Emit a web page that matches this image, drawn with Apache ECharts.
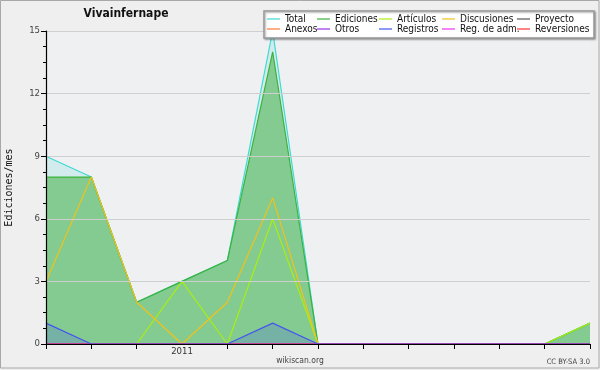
<!DOCTYPE html>
<html><head><meta charset="utf-8">
<script src="https://cdn.jsdelivr.net/npm/echarts@6/dist/echarts.min.js"></script>
<style>html,body{margin:0;padding:0;background:#efefef}#c{width:600px;height:370px}</style>
</head><body><div id="c"></div>
<script>
const categories = ['2010-10','2010-11','2010-12','2011-01','2011-02','2011-03','2011-04','2011-05','2011-06','2011-07','2011-08','2011-09','2011-10'];
const total       = [9, 8, 2, 3, 4, 15, 0, 0, 0, 0, 0, 0, 1];
const ediciones   = [8, 8, 2, 3, 4, 14, 0, 0, 0, 0, 0, 0, 1];
const articulos   = [0, 0, 0, 3, 0, 6, 0, 0, 0, 0, 0, 0, 1];
const discusiones = [3, 8, 2, 0, 2, 7, 0, 0, 0, 0, 0, 0, 0];
const proyecto    = [0, 0, 0, 0, 0, 0, 0, 0, 0, 0, 0, 0, 0];
const anexos      = [0, 0, 0, 0, 0, 0, 0, 0, 0, 0, 0, 0, 0];
const otros       = [0, 0, 0, 0, 0, 0, 0, 0, 0, 0, 0, 0, 0];
const registros   = [1, 0, 0, 0, 0, 1, 0, 0, 0, 0, 0, 0, 0];
const regAdm      = [0, 0, 0, 0, 0, 0, 0, 0, 0, 0, 0, 0, 0];
const reversiones = [0, 0, 0, 0, 0, 0, 0, 0, 0, 0, 0, 0, 0];
const yTicks = [0, 3, 6, 9, 12, 15];
const title = 'Vivainfernape';
const yName = 'Ediciones/mes';

const FONT = '"DejaVu Sans Condensed", "DejaVu Sans", sans-serif';
const chart = echarts.init(document.getElementById('c'), null, {renderer: 'canvas'});

function line(name, data, color, area, areaOpacity, z) {
  const s = {
    name, type: 'line', data, color, symbol: 'none', z: z,
    lineStyle: {width: 1.2, color},
    emphasis: {disabled: true}, animation: false
  };
  if (area) s.areaStyle = {color: area, opacity: areaOpacity};
  return s;
}

const series = [
  line('Total', total, '#3fd9d2', '#3fd9d2', 0.16, 2),
  line('Ediciones', ediciones, '#3db33d', '#33aa33', 0.5, 3),
  line('Artículos', articulos, '#aaee11', null, 0, 4),
  line('Discusiones', discusiones, '#f2c11a', null, 0, 4),
  line('Proyecto', proyecto, '#555555', null, 0, 4),
  line('Anexos', anexos, '#ff7a3a', null, 0, 4),
  line('Otros', otros, '#9933ee', null, 0, 4),
  line('Registros', registros, '#4455ee', '#4455ee', 0.22, 5),
  line('Reg. de adm.', regAdm, '#ee33ee', null, 0, 4),
  line('Reversiones', reversiones, '#ff3333', null, 0, 4)
];

const cols = [['Total','Anexos'],['Ediciones','Otros'],['Artículos','Registros'],['Discusiones','Reg. de adm.'],['Proyecto','Reversiones']];
const colLeft = [267, 317, 379, 442, 517];
const legends = cols.map((d, i) => ({
  data: d, left: colLeft[i], top: 14, orient: 'vertical', padding: 0, itemGap: 0,
  icon: 'rect', itemWidth: 13, itemHeight: 1.2, selectedMode: false, z: 20,
  textStyle: {fontFamily: FONT, fontSize: 10, color: '#111', lineHeight: 10, padding: [0,0,0,0]}
}));

chart.setOption({
  backgroundColor: '#efefef',
  animation: false,
  grid: {left: 46, right: 10, top: 31, bottom: 26, show: true, backgroundColor: '#eff0f2', borderWidth: 0,
    outerBoundsMode: 'none', containLabel: false},
  xAxis: {
    type: 'category', data: categories, boundaryGap: false, z: 10,
    axisLine: {lineStyle: {color: '#000', width: 1.2}},
    axisTick: {show: true, length: 5, lineStyle: {color: '#000'}, interval: (i, v) => !v.endsWith('-01')},
    axisLabel: {interval: 0, fontFamily: FONT, fontSize: 9.5, color: '#333', margin: 3,
      formatter: v => v.endsWith('-01') ? v.slice(0, 4) : ''},
    splitLine: {show: false}
  },
  yAxis: {
    type: 'value', min: yTicks[0], max: yTicks[yTicks.length-1], interval: 3, z: 10,
    name: yName, nameLocation: 'middle', nameGap: 32, nameRotate: 90,
    nameTextStyle: {fontFamily: '"DejaVu Sans Mono", monospace', fontSize: 10, color: '#111'},
    axisLine: {show: true, lineStyle: {color: '#000', width: 1.2}},
    axisTick: {show: true, length: 5, lineStyle: {color: '#000'}},
    minorTick: {show: true, splitNumber: 4, length: 3, lineStyle: {color: '#000'}},
    axisLabel: {fontFamily: FONT, fontSize: 9.5, color: '#444', margin: 6},
    splitLine: {show: true, lineStyle: {color: '#cfcfcf', width: 1}}
  },
  legend: legends,
  series,
  graphic: [
    {type: 'rect', z: 100, silent: true, shape: {x: 0.5, y: 0.5, width: 598.5, height: 367.5},
      style: {fill: 'none', stroke: '#a8a8a8', lineWidth: 1}},
    {type: 'rect', z: 15, silent: true, shape: {x: 264, y: 11, width: 330, height: 27},
      style: {fill: '#ffffff', stroke: '#999', lineWidth: 1.5, shadowBlur: 2, shadowOffsetX: 1, shadowOffsetY: 1, shadowColor: 'rgba(0,0,0,0.35)'}},
    {type: 'text', z: 20, silent: true, x: 126, y: 14,
      style: {text: title, font: 'bold 12px ' + FONT, fill: '#111', align: 'center', verticalAlign: 'middle'}},
    {type: 'text', z: 20, silent: true, x: 300, y: 361,
      style: {text: 'wikiscan.org', font: '8.5px ' + FONT, fill: '#444', align: 'center', verticalAlign: 'middle'}},
    {type: 'text', z: 20, silent: true, x: 590, y: 362,
      style: {text: 'CC BY-SA 3.0', font: '7.5px ' + FONT, fill: '#444', align: 'right', verticalAlign: 'middle'}}
  ]
});
</script></body></html>
